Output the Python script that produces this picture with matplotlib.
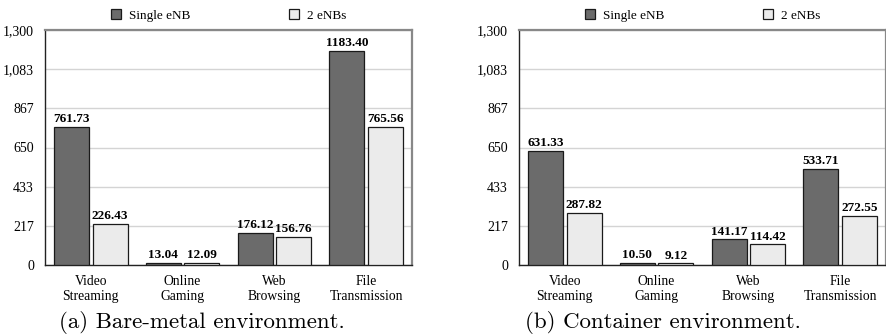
import matplotlib
matplotlib.use("Agg")
import matplotlib.pyplot as plt
import numpy as np
from matplotlib.ticker import FuncFormatter

categories = ["Video\nStreaming", "Online\nGaming", "Web\nBrowsing", "File\nTransmission"]
series_names = ["Single eNB", "2 eNBs"]

bare_single = [761.73, 13.04, 176.12, 1183.40]
bare_two = [226.43, 12.09, 156.76, 765.56]
cont_single = [631.33, 10.50, 141.17, 533.71]
cont_two = [287.82, 9.12, 114.42, 272.55]

yticks = [0, 1300 / 6, 2 * 1300 / 6, 3 * 1300 / 6, 4 * 1300 / 6, 5 * 1300 / 6, 1300]
captions = ["(a) Bare-metal environment.", "(b) Container environment."]

DARK = "#6b6b6b"
LIGHT = "#ebebeb"
SERIF = ["Liberation Serif", "DejaVu Serif"]

plt.rcParams["font.family"] = SERIF

fig = plt.figure(figsize=(8.87, 3.36), dpi=100)
W, H = 887, 336


def draw_panel(left_px, single, two, caption, cap_x):
    ax = fig.add_axes([left_px / W, (H - 265) / H, 367 / W, 235 / H])
    x = np.arange(len(categories))
    w = 0.38
    off = 0.21
    b1 = ax.bar(x - off, single, w, color=DARK, edgecolor="#1a1a1a", linewidth=0.9,
                label=series_names[0], zorder=3)
    b2 = ax.bar(x + off, two, w, color=LIGHT, edgecolor="#1a1a1a", linewidth=0.9,
                label=series_names[1], zorder=3)
    for bars, vals in ((b1, single), (b2, two)):
        for rect, v in zip(bars, vals):
            ax.text(rect.get_x() + rect.get_width() / 2, v + 10, f"{v:.2f}",
                    ha="center", va="bottom", fontsize=9.5, fontweight="bold")

    ax.set_xlim(-0.5, len(categories) - 0.5)
    ax.set_ylim(0, 1300)
    ax.set_yticks(yticks)
    ax.yaxis.set_major_formatter(FuncFormatter(lambda v, p: f"{round(v):,}"))
    ax.set_xticks(x)
    ax.set_xticklabels(categories, fontsize=9.8, linespacing=1.2)
    ax.tick_params(axis="both", length=0)
    ax.tick_params(axis="y", pad=8, labelsize=10)
    ax.tick_params(axis="x", pad=7)
    ax.grid(axis="y", color="#d4d4d4", linewidth=1.0, zorder=0)
    ax.set_axisbelow(True)
    for s in ("top", "right"):
        ax.spines[s].set_color("#888888")
        ax.spines[s].set_linewidth(1.6)
    for s in ("left", "bottom"):
        ax.spines[s].set_color("#222222")
        ax.spines[s].set_linewidth(1.0)

    ax.legend(loc="lower center", bbox_to_anchor=(0.5, 1.012), ncol=2, frameon=False,
              fontsize=9.5, handlelength=0.75, handleheight=0.75, handletextpad=0.6,
              columnspacing=7.5, borderaxespad=0)

    fig.text(cap_x / W, 1 - 323 / H, caption, family="cmr10", fontsize=16.5,
             ha="center", va="center")
    return ax


draw_panel(45, bare_single, bare_two, captions[0], 202)
draw_panel(519, cont_single, cont_two, captions[1], 663)

fig.savefig("out.png", dpi=100)
